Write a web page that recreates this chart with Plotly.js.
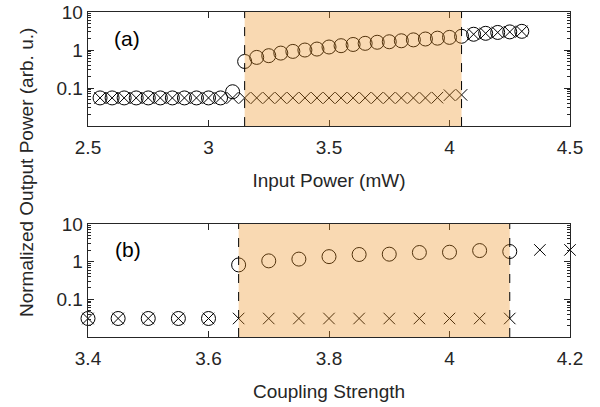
<!DOCTYPE html>
<html><head><meta charset="utf-8">
<script src="https://cdn.plot.ly/plotly-3.0.1.min.js"></script>
<style>html,body{margin:0;padding:0;background:#fff}#chart{width:600px;height:407px}</style>
</head><body><div id="chart"></div>
<script>
// Panel (a): output vs input power (mW)
const powerX = [2.55,2.6,2.65,2.7,2.75,2.8,2.85,2.9,2.95,3.0,3.05,3.1,3.15,3.2,3.25,3.3,3.35,3.4,3.45,3.5,3.55,3.6,3.65,3.7,3.75,3.8,3.85,3.9,3.95,4.0,4.05,4.1,4.15,4.2,4.25,4.3];
const circleA = [0.055,0.055,0.055,0.055,0.055,0.055,0.055,0.055,0.055,0.055,0.055,0.08,0.5,0.64,0.71,0.83,0.92,1.0,1.06,1.2,1.3,1.4,1.5,1.6,1.65,1.75,1.85,1.95,2.05,2.15,2.3,2.6,2.75,2.9,3.0,3.1];
const crossA = [0.055,0.055,0.055,0.055,0.055,0.055,0.055,0.055,0.055,0.055,0.055,0.055,0.055,0.055,0.055,0.055,0.055,0.055,0.055,0.055,0.055,0.055,0.055,0.055,0.055,0.055,0.055,0.055,0.056,0.065,0.066,2.6,2.75,2.9,3.0,3.1];
const shadeA = [3.15, 4.05];

// Panel (b): output vs coupling strength
const couplingX = [3.4,3.45,3.5,3.55,3.6,3.65,3.7,3.75,3.8,3.85,3.9,3.95,4.0,4.05,4.1,4.15,4.2];
const circleBX = [3.4,3.45,3.5,3.55,3.6,3.65,3.7,3.75,3.8,3.85,3.9,3.95,4.0,4.05,4.1];
const circleB = [0.031,0.031,0.031,0.031,0.031,0.82,1.05,1.17,1.36,1.55,1.58,1.75,1.78,1.97,1.86];
const crossB = [0.031,0.031,0.031,0.031,0.031,0.031,0.031,0.031,0.031,0.031,0.031,0.031,0.031,0.031,0.031,2.05,2.05];
const shadeB = [3.65, 4.1];

const xTicksA = [2.5,3,3.5,4,4.5], xTextA = ['2.5','3','3.5','4','4.5'];
const xTicksB = [3.4,3.6,3.8,4,4.2], xTextB = ['3.4','3.6','3.8','4','4.2'];
const yTicks = [0.1,1,10], yText = ['0.1','1','10'];

const minorVals = [];
[0.01,0.1,1].forEach(d => { for (let k = 2; k <= 9; k++) minorVals.push(d*k); });

const ink = '#262626';
const FONT = 'Liberation Sans, Arial, Helvetica, sans-serif';
const circ = {symbol:'circle-open', size:14, color:'#000', line:{width:1, color:'#000'}};
const cross = {symbol:'x-thin-open', size:11.5, color:'#000', line:{width:1, color:'#000'}};

const traces = [
  {x: powerX, y: circleA, xaxis:'x', yaxis:'y', mode:'markers', marker: circ, cliponaxis:false},
  {x: powerX, y: crossA, xaxis:'x', yaxis:'y', mode:'markers', marker: cross, cliponaxis:false},
  {x: circleBX, y: circleB, xaxis:'x2', yaxis:'y2', mode:'markers', marker: circ, cliponaxis:false},
  {x: couplingX, y: crossB, xaxis:'x2', yaxis:'y2', mode:'markers', marker: cross, cliponaxis:false}
];

function xax(range, tv, tt, title, anchor, standoff) {
  return {range, tickvals: tv, ticktext: tt, anchor, ticks:'inside', ticklen:6, tickcolor: ink,
    mirror:'ticks', showline:true, linecolor: ink, linewidth:1.3, showgrid:false, zeroline:false,
    ticklabelstandoff: 4,
    tickfont:{size:19, color: ink, family: FONT},
    title:{text: title, font:{size:19, color: ink, family: FONT}, standoff}};
}
function yax(domain, anchor) {
  return {type:'log', range:[-2,1], domain, anchor, tickvals: yTicks, ticktext: yText,
    ticks:'inside', ticklen:6, tickcolor: ink, mirror:'ticks', showline:true, linecolor: ink, linewidth:1.3,
    showgrid:false, zeroline:false, tickfont:{size:19, color: ink, family: FONT},
    minor:{tickvals: minorVals, ticks:'inside', ticklen:3, tickcolor: ink, showgrid:false}};
}

const shapes = [];
[[shadeA,'x','y'],[shadeB,'x2','y2']].forEach(([s, xr, yr]) => {
  shapes.push({type:'rect', xref: xr, yref: yr + ' domain', x0: s[0], x1: s[1], y0:0, y1:1,
    fillcolor:'rgba(237,145,33,0.35)', line:{width:0}, layer:'above'});
  s.forEach(v => shapes.push({type:'line', xref: xr, yref: yr + ' domain', x0: v, x1: v, y0:0, y1:1,
    line:{color:'#000', width:1, dash:'dash'}, layer:'above'}));
});

const layout = {
  width:600, height:407, showlegend:false,
  paper_bgcolor:'#fff', plot_bgcolor:'#fff',
  margin:{l:88, r:30, t:12, b:70},
  font:{family: FONT, color: ink},
  xaxis: Object.assign(xax([2.5,4.5], xTicksA, xTextA, 'Input Power (mW)', 'y', 16), {domain:[0,1]}),
  yaxis: yax([0.649,1], 'x'),
  xaxis2: Object.assign(xax([3.4,4.2], xTicksB, xTextB, 'Coupling Strength', 'y2', 16), {domain:[0,1]}),
  yaxis2: yax([0,0.3477], 'x2'),
  shapes,
  annotations:[
    {text:'Normalized Output Power (arb. u.)', textangle:-90, xref:'paper', yref:'paper',
     x:-0.1286, y:0.5046, xanchor:'center', yanchor:'middle', showarrow:false,
     font:{size:19, color: ink, family: FONT}},
    {text:'(a)', xref:'paper', yref:'paper', x:0.0799, y:0.918, xanchor:'center', yanchor:'middle',
     showarrow:false, font:{size:21, color:'#000', family: FONT}},
    {text:'(b)', xref:'paper', yref:'paper', x:0.082, y:0.2677, xanchor:'center', yanchor:'middle',
     showarrow:false, font:{size:21, color:'#000', family: FONT}}
  ]
};

Plotly.newPlot('chart', traces, layout, {displayModeBar:false, staticPlot:true});
</script>
</body></html>
